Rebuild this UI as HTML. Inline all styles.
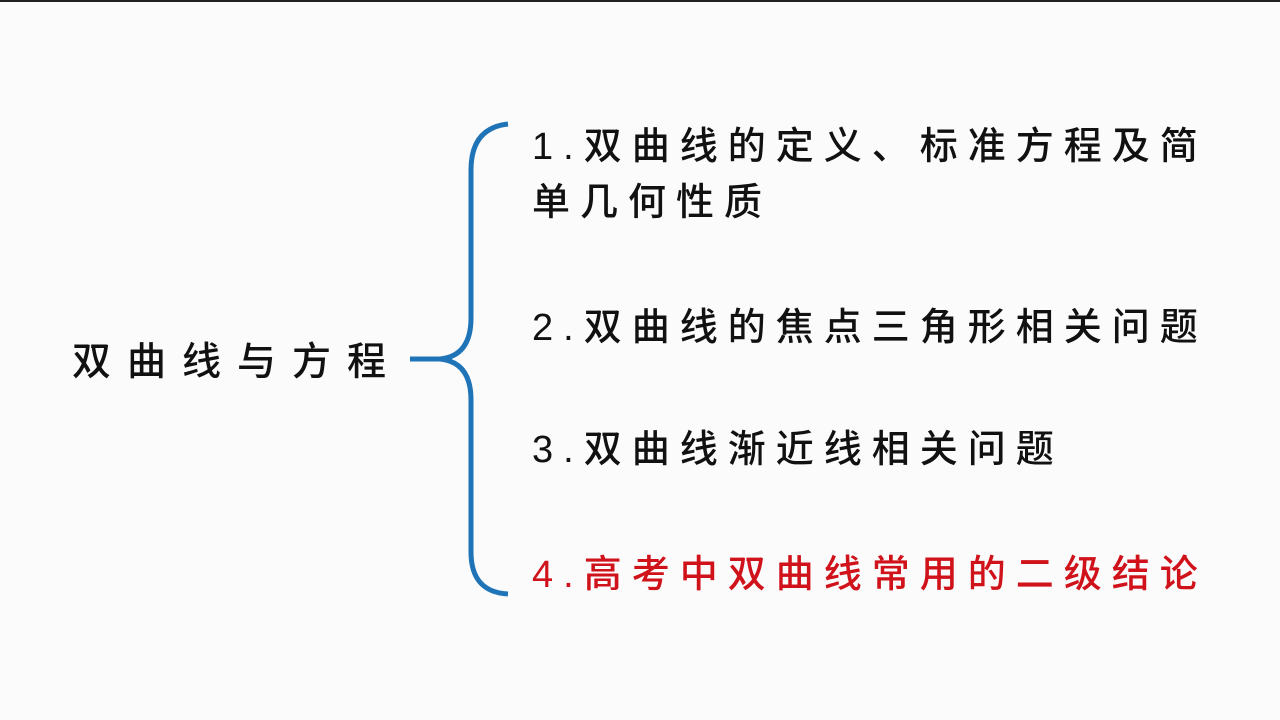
<!DOCTYPE html>
<html><head><meta charset="utf-8"><style>
html,body{margin:0;padding:0}
body{width:1280px;height:720px;background:#fbfbfb;position:relative;overflow:hidden;font-family:"Liberation Sans","Noto Sans CJK SC",sans-serif;}
.t{position:absolute;font-size:38px;letter-spacing:10px;color:#111;white-space:nowrap;line-height:1;font-weight:500}
.top{position:absolute;left:0;top:0;width:1280px;height:2px;background:#222}
</style></head><body>
<div class="top"></div>
<div class="t" style="left:72px;top:343px;letter-spacing:16px;font-size:39px">双曲线与方程</div>
<svg style="position:absolute;left:0;top:0" width="1280" height="720">
<path d="M508 124 Q471 128 471 170 L471 318 Q471 356 440 359 L410 359 M440 359 Q471 362 471 400 L471 552 Q471 592 508 594" fill="none" stroke="#1f74b8" stroke-width="5"/>
</svg>
<div class="t" style="left:532px;top:128px">1.双曲线的定义、标准方程及简</div>
<div class="t" style="left:532px;top:184px">单几何性质</div>
<div class="t" style="left:532px;top:309px">2.双曲线的焦点三角形相关问题</div>
<div class="t" style="left:532px;top:431px">3.双曲线渐近线相关问题</div>
<div class="t" style="left:532px;top:556px;color:#d0121b">4.高考中双曲线常用的二级结论</div>
</body></html>
